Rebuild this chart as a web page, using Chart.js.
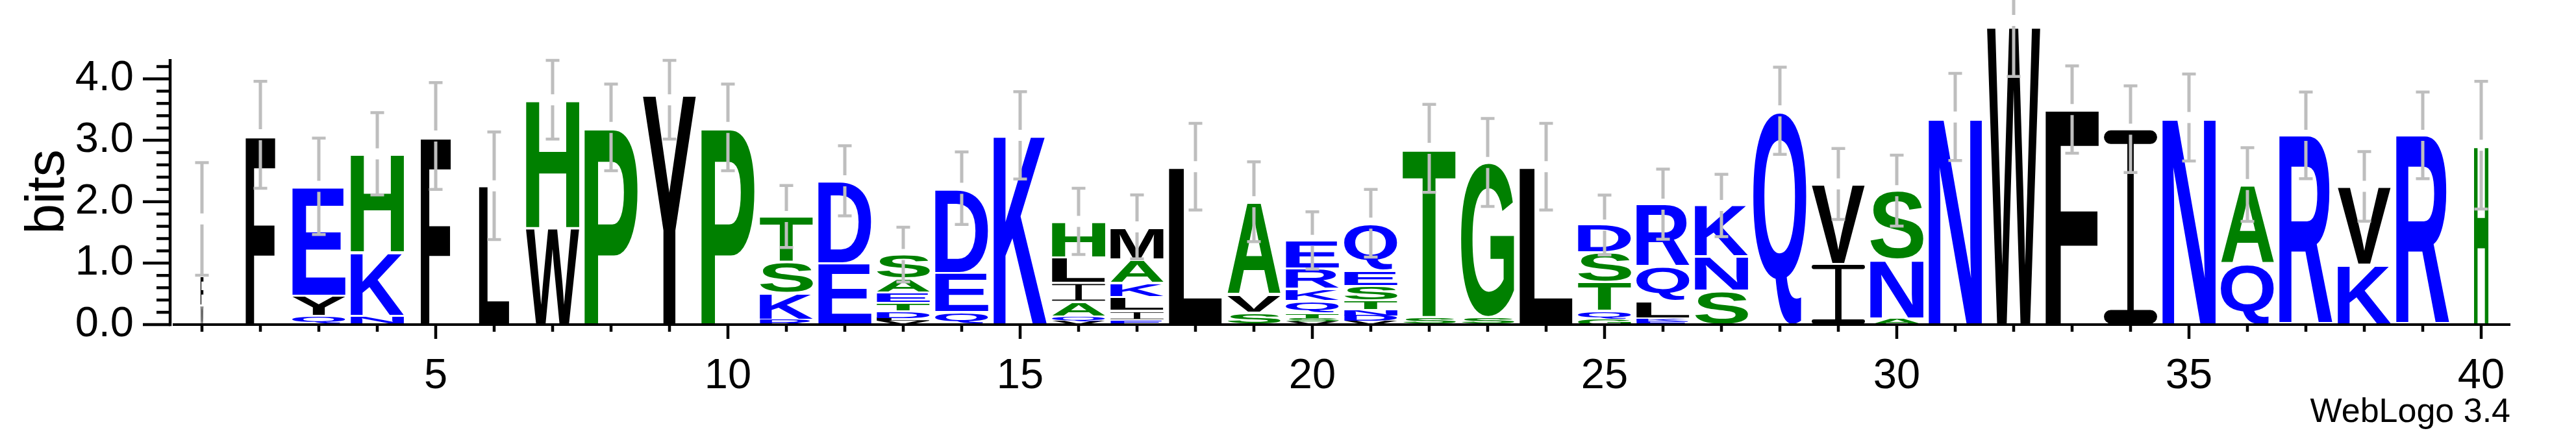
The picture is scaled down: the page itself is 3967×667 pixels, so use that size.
<!DOCTYPE html>
<html><head><meta charset="utf-8">
<script src="https://cdn.jsdelivr.net/npm/chart.js@4"></script>
<style>html,body{margin:0;padding:0;background:#fff;} #wrap{width:3967px;height:667px;position:relative;}</style>
</head><body><div id="wrap"><canvas id="c"></canvas></div>
<script>
// ---- data ----
const positions = [1,2,3,4,5,6,7,8,9,10,11,12,13,14,15,16,17,18,19,20,21,22,23,24,25,26,27,28,29,30,31,32,33,34,35,36,37,38,39,40];
// letters of each stack, bottom -> top
const stackLetters = ["WF","F","QYE","NKH","F","L","WH","P","Y","P","RKST","ED","VLDTEAS","QED","K","VQAILH","EILKAM","L","SVA","VSTQKRE","VDNTSEQ","ST","SG","L","GQTSD","EKLQR","SNK","Q","IV","ANS","N","W","F","I","N","QA","R","KV","R","H"];
// heights in bits, bottom -> top
const stackHeights = [
  [0.31,0.48],[3.08],[0.14,0.33,1.77],[0.14,1.03,1.60],[3.06],[2.26],[1.57,2.09],[3.21],[3.74],[3.21],
  [0.08,0.43,0.51,0.74],[1.00,1.34],[0.06,0.05,0.10,0.14,0.17,0.23,0.40],[0.20,0.64,1.37],[3.09],
  [0.06,0.07,0.24,0.31,0.41,0.58],[0.07,0.15,0.23,0.23,0.38,0.51],[2.56],[0.19,0.30,1.50],
  [0.05,0.06,0.07,0.20,0.20,0.33,0.46],[0.06,0.09,0.08,0.16,0.24,0.25,0.76],[0.12,2.74],[0.12,2.52],[2.56],
  [0.08,0.14,0.47,0.48,0.45],[0.05,0.045,0.286,0.56,1.02],[0.55,0.56,0.84],[3.48],[0.99,1.30],[0.10,0.95,1.13],
  [3.37],[4.85],[3.52],[3.18],[3.37],[0.99,1.28],[3.09],[0.97,1.27],[3.09],[2.92]
];
// fraction of non-gap symbols (stack width)
const stackWidth = [0.055,0.555,1,1,0.565,0.57,1,1,1,1,1,1,1,1,1,1,1,1,1,1,1,1,1,1,1,1,1,1,1,1,1,1,1,1,1,1,1,1,1,0.27];
const errCenter = [1.72,3.09,2.25,2.78,3.07,2.26,3.66,3.21,3.66,3.21,1.76,2.34,1.14,2.22,3.08,1.68,1.59,2.57,2.00,1.37,1.65,2.87,2.64,2.57,1.62,1.96,1.94,3.48,2.29,2.18,3.38,4.95,3.50,3.18,3.37,2.28,3.08,2.25,3.08,2.92];
const errHalf = [0.916,0.87,0.785,0.67,0.87,0.877,0.64,0.705,0.64,0.705,0.505,0.57,0.446,0.59,0.71,0.54,0.52,0.705,0.65,0.466,0.55,0.716,0.716,0.705,0.487,0.57,0.507,0.71,0.577,0.577,0.71,0.91,0.71,0.705,0.708,0.60,0.705,0.566,0.705,1.04];
const xTickLabels = ['5','10','15','20','25','30','35','40'];
const yTickLabels = ['0.0','1.0','2.0','3.0','4.0'];
const colorGroups = { '#0000ff': 'DEKQRN', '#008000': 'HPTSAG', '#000000': 'FLWYMVIC' };

function colorOf(ch){ for (const c in colorGroups) if (colorGroups[c].includes(ch)) return c; return '#000000'; }

const maxLevels = Math.max(...stackLetters.map(s => s.length));
const datasets = [];
for (let k = 0; k < maxLevels; k++) {
  datasets.push({
    label: 'level ' + (k+1),
    data: positions.map((p, i) => ({ x: p, y: stackHeights[i][k] !== undefined ? stackHeights[i][k] : 0 })),
    letters: positions.map((p, i) => stackLetters[i][k] || ''),
    backgroundColor: 'rgba(0,0,0,0)', borderWidth: 0,
    barPercentage: 0.91, categoryPercentage: 1.0, grouped: false
  });
}

function drawGlyph(ctx, ch, color, x, y, w, h){
  if (h < 0.3 || w < 0.3 || !ch) return;
  if (h > 10) { y += 1.8; h -= 3.6; }
  ctx.save();
  ctx.fillStyle = color;
  if (ch === 'I') {
    const bar = Math.max(h * 0.07, 0.5), stem = w * 0.12;
    ctx.beginPath();
    ctx.roundRect(x, y, w, bar, bar / 2);
    ctx.roundRect(x, y + h - bar, w, bar, bar / 2);
    ctx.rect(x + (w - stem) / 2, y + bar * 0.5, stem, h - bar);
    ctx.fill();
  } else {
    ctx.font = 'bold 200px "Liberation Sans", Arial, sans-serif';
    ctx.textBaseline = 'alphabetic'; ctx.textAlign = 'left';
    const m = ctx.measureText(ch);
    const gw = m.actualBoundingBoxLeft + m.actualBoundingBoxRight;
    const gh = m.actualBoundingBoxAscent + m.actualBoundingBoxDescent;
    ctx.translate(x, y);
    ctx.scale(w / gw, h / gh);
    ctx.fillText(ch, m.actualBoundingBoxLeft, m.actualBoundingBoxAscent);
  }
  ctx.restore();
}

const logoPlugin = {
  id: 'logo',
  afterDatasetsDraw(chart) {
    const ctx = chart.ctx;
    const xs = chart.scales.x, ys = chart.scales.y;
    chart.data.datasets.forEach((ds, di) => {
      const meta = chart.getDatasetMeta(di);
      meta.data.forEach((el, i) => {
        const ch = ds.letters[i];
        if (!ch) return;
        const w = el.width * stackWidth[i];
        drawGlyph(ctx, ch, colorOf(ch), el.x - w / 2, el.y, w, el.base - el.y);
      });
    });
    // error bars
    ctx.save();
    ctx.strokeStyle = '#bebebe';
    ctx.lineCap = 'butt';
    positions.forEach((p, i) => {
      const x = xs.getPixelForValue(p);
      const yc = ys.getPixelForValue(errCenter[i]);
      const yt = ys.getPixelForValue(errCenter[i] + errHalf[i]);
      const yb = ys.getPixelForValue(errCenter[i] - errHalf[i]);
      const gap = 8.5;
      ctx.lineWidth = 5;
      ctx.beginPath();
      ctx.moveTo(x, yt); ctx.lineTo(x, yc - gap);
      ctx.moveTo(x, yc + gap); ctx.lineTo(x, yb);
      ctx.stroke();
      ctx.lineWidth = 4.5;
      ctx.beginPath();
      ctx.moveTo(x - 10.5, yt); ctx.lineTo(x + 10.5, yt);
      ctx.moveTo(x - 10.5, yb); ctx.lineTo(x + 10.5, yb);
      ctx.stroke();
    });
    ctx.restore();
  },
  afterDraw(chart) {
    const ctx = chart.ctx;
    const xs = chart.scales.x, ys = chart.scales.y;
    const y0 = ys.getPixelForValue(0);
    ctx.save();
    ctx.strokeStyle = '#000'; ctx.lineCap = 'butt';
    // y axis
    const ax = chart.chartArea.left - 4;
    ctx.lineWidth = 4.5;
    ctx.beginPath(); ctx.moveTo(ax, ys.getPixelForValue(ys.max)); ctx.lineTo(ax, y0 + 2.2); ctx.stroke();
    for (let k = 0; k <= 21; k++) {
      const v = k * 0.2;
      const yy = ys.getPixelForValue(v);
      const major = (k % 5 === 0);
      ctx.beginPath(); ctx.moveTo(ax - (major ? 42 : 21), yy); ctx.lineTo(ax, yy); ctx.stroke();
    }
    // x axis
    ctx.lineWidth = 4;
    ctx.beginPath(); ctx.moveTo(chart.chartArea.left, y0); ctx.lineTo(chart.chartArea.right, y0); ctx.stroke();
    ctx.lineWidth = 4.5;
    positions.forEach(p => {
      const x = xs.getPixelForValue(p);
      const major = xTickLabels.includes(String(p));
      ctx.beginPath(); ctx.moveTo(x, y0); ctx.lineTo(x, y0 + (major ? 22 : 11)); ctx.stroke();
    });
    // footer
    ctx.fillStyle = '#000';
    ctx.font = '52px "Liberation Sans", Arial, sans-serif';
    ctx.textAlign = 'right'; ctx.textBaseline = 'alphabetic';
    ctx.fillText('WebLogo 3.4', chart.chartArea.right, 650);
    ctx.restore();
  }
};

new Chart(document.getElementById('c'), {
  type: 'bar',
  data: { datasets },
  options: {
    responsive: true, maintainAspectRatio: false, animation: false,
    layout: { padding: { top: 50, right: 101, left: 0, bottom: 0 } },
    plugins: { legend: { display: false }, tooltip: { enabled: false } },
    scales: {
      x: {
        type: 'linear', stacked: true, min: 0.5, max: 40.5, offset: false,
        grid: { display: false }, border: { display: false },
        afterBuildTicks: s => { s.ticks = xTickLabels.map(t => ({ value: parseFloat(t) })); },
        afterFit: s => { s.height = 167; },
        ticks: { color: '#000', padding: 33, maxRotation: 0, autoSkip: false,
          font: { family: '"Liberation Sans", Arial, sans-serif', size: 65 },
          callback: (v, i) => xTickLabels[i] }
      },
      y: {
        stacked: true, min: 0, max: Math.log2(20),
        grid: { display: false }, border: { display: false },
        afterBuildTicks: s => { s.ticks = yTickLabels.map(t => ({ value: parseFloat(t) })); },
        afterFit: s => { s.width = 266; },
        title: { display: true, text: 'bits', color: '#000', padding: { top: 24, bottom: 0 },
          font: { family: '"Liberation Sans", Arial, sans-serif', size: 84 } },
        ticks: { color: '#000', padding: 52,
          font: { family: '"Liberation Sans", Arial, sans-serif', size: 65 },
          callback: (v, i) => yTickLabels[i] }
      }
    }
  },
  plugins: [logoPlugin]
});
</script>
</body></html>
